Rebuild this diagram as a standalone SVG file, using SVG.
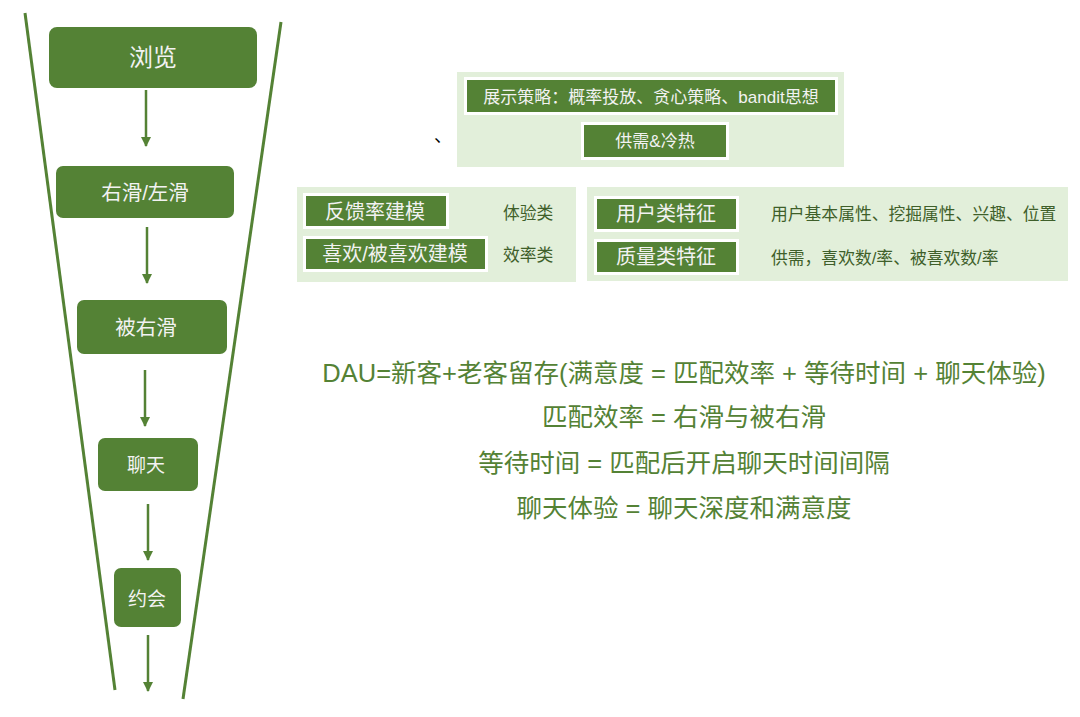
<svg xmlns="http://www.w3.org/2000/svg" width="1080" height="717" viewBox="0 0 1080 717">
<defs>
<style>
text{font-family:"Liberation Sans","Noto Sans CJK SC",sans-serif;dominant-baseline:central;text-anchor:middle}
.node{fill:#548235}
.nt{fill:#f2f2f2}
.panel{fill:#e2efda}
.tag{fill:#548235;stroke:#ffffff;stroke-width:3}
.side{fill:#3f5f2a;font-size:16.8px;text-anchor:start}
.f{fill:#548235;font-size:25.5px}
.funnel{stroke:#548235;stroke-width:3;fill:none}
.arr{stroke:#548235;stroke-width:2.5;fill:none;marker-end:url(#ah)}
</style>
<marker id="ah" markerWidth="10" markerHeight="10" refX="9" refY="5" orient="auto" markerUnits="userSpaceOnUse">
<path d="M0,0 L10,5 L0,10 z" fill="#548235"/>
</marker>
</defs>
<rect width="1080" height="717" fill="#ffffff"/>

<g id="funnel">
<line class="funnel" x1="25" y1="13" x2="115" y2="690"/>
<line class="funnel" x1="281" y1="22" x2="183" y2="699"/>
</g>

<g id="connectors">
<line class="arr" x1="146" y1="90" x2="146" y2="146"/>
<line class="arr" x1="147" y1="227" x2="147" y2="283"/>
<line class="arr" x1="145" y1="370" x2="145" y2="426"/>
<line class="arr" x1="148" y1="504" x2="148" y2="560"/>
<line class="arr" x1="148" y1="635" x2="148" y2="691"/>
</g>

<g id="n-browse">
<rect class="node" x="49" y="27" width="208" height="61" rx="8"/>
<text class="nt" x="153" y="57" font-size="24">浏览</text>
</g>
<g id="n-swipe">
<rect class="node" x="56" y="166" width="178" height="52" rx="7"/>
<text class="nt" x="145" y="192" font-size="20.5">右滑/左滑</text>
</g>
<g id="n-beswiped">
<rect class="node" x="77" y="300" width="150" height="54" rx="7"/>
<text class="nt" x="146" y="327" font-size="20.5">被右滑</text>
</g>
<g id="n-chat">
<rect class="node" x="98" y="438" width="100" height="53" rx="7"/>
<text class="nt" x="146" y="465" font-size="19">聊天</text>
</g>
<g id="n-date">
<rect class="node" x="114" y="568" width="67" height="59" rx="7"/>
<text class="nt" x="147" y="599" font-size="19">约会</text>
</g>

<g id="p-strategy">
<rect class="panel" x="457" y="72" width="387" height="95"/>
<rect class="tag" x="465.5" y="78.5" width="371" height="35"/>
<text class="nt" x="651" y="97" font-size="17">展示策略：概率投放、贪心策略、bandit思想</text>
<rect class="tag" x="582.5" y="123.5" width="145" height="35"/>
<text class="nt" x="655" y="141" font-size="17">供需&amp;冷热</text>
</g>
<g id="mark">
<text x="443" y="136" font-size="18" fill="#000000">、</text>
</g>

<g id="p-model">
<rect class="panel" x="297" y="187" width="279" height="95"/>
<rect class="tag" x="304.5" y="194.5" width="143" height="33"/>
<text class="nt" x="375" y="212" font-size="20">反馈率建模</text>
<rect class="tag" x="304.5" y="237.5" width="182" height="33"/>
<text class="nt" x="395" y="254" font-size="20">喜欢/被喜欢建模</text>
<text class="side" x="503" y="213">体验类</text>
<text class="side" x="503" y="255">效率类</text>
</g>

<g id="p-feature">
<rect class="panel" x="587" y="187" width="481" height="94"/>
<rect class="tag" x="595.5" y="197.5" width="142" height="33"/>
<text class="nt" x="666" y="214" font-size="20">用户类特征</text>
<rect class="tag" x="595.5" y="240.5" width="142" height="33"/>
<text class="nt" x="666" y="257" font-size="20">质量类特征</text>
<text class="side" x="771" y="214">用户基本属性、挖掘属性、兴趣、位置</text>
<text class="side" x="771" y="258">供需，喜欢数/率、被喜欢数/率</text>
</g>

<g id="formulas">
<text class="f" x="684" y="373">DAU=新客+老客留存(满意度 = 匹配效率 + 等待时间 + 聊天体验)</text>
<text class="f" x="684" y="417">匹配效率 = 右滑与被右滑</text>
<text class="f" x="684" y="463">等待时间 = 匹配后开启聊天时间间隔</text>
<text class="f" x="684" y="508">聊天体验 = 聊天深度和满意度</text>
</g>
</svg>
